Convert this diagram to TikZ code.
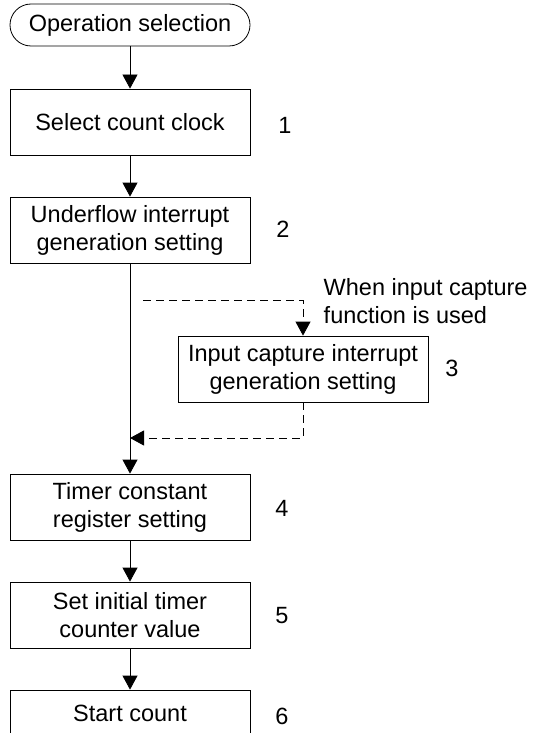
\documentclass[tikz,border=0pt]{standalone}
\usepackage{fontspec}
\setmainfont{Liberation Sans}
\usetikzlibrary{arrows.meta}

\tikzset{
  stepbox/.style={draw,minimum width=240pt,minimum height=66pt,align=center,inner sep=2pt},
  termbox/.style={draw,rounded corners=21pt,minimum width=240pt,minimum height=42pt},
  optional/.style={dash pattern=on 8pt off 5pt}
}

\begin{document}
\begin{tikzpicture}[>={Triangle[length=14pt,width=15pt]},x=1pt,y=-1pt,line width=0.8pt,
  font=\fontsize{23.5}{28}\selectfont]
\useasboundingbox (0,0) rectangle (533,733);
\clip (0,0) rectangle (533,733);
\node[termbox] (start) at (130,25) {Operation selection};
\node[stepbox] (clock) at (130,122) {Select count clock};
\node[stepbox] (underflow) at (130,230) {Underflow interrupt\\generation setting};
\node[stepbox,minimum width=250pt] (capture) at (303,369) {Input capture interrupt\\generation setting};
\node[stepbox] (constant) at (130,507) {Timer constant\\register setting};
\node[stepbox] (initial) at (130,615) {Set initial timer\\counter value};
% last box runs off the bottom edge
\node[stepbox,minimum height=46pt] (count) at (130,713) {Start count};
% step numbers
\node (n1) at (285,125) {1};
\node (n2) at (283,229) {2};
\node (n3) at (452,368) {3};
\node (n4) at (282,508) {4};
\node (n5) at (282,616) {5};
\node (n6) at (282,716) {6};
\node[anchor=west,align=left] (note) at (320,301) {When input capture\\function is used};
\draw[->] (start) -- (clock);
\draw[->] (clock) -- (underflow);
\draw[->] (underflow) -- (constant);
\draw[->] (constant) -- (initial);
\draw[->] (initial) -- (count);
% optional branch
\coordinate (branch) at (143,300);
\coordinate (rejoin) at (130,438);
\draw[->,optional] (branch) -| (capture.north);
\draw[->,optional] (capture.south) |- (rejoin);
\end{tikzpicture}
\end{document}
